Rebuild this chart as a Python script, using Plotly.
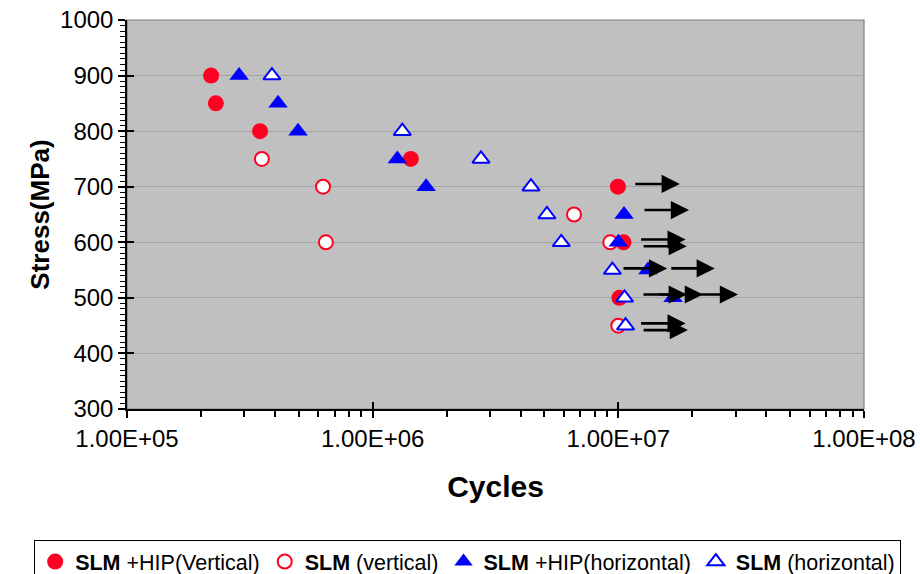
import math
import plotly.graph_objects as go

# ---------------- data ----------------
hip_v_cycles = [2.2e5, 2.3e5, 3.48e5, 1.43e6, 9.96e6, 1.05e7, 1.01e7]
hip_v_stress = [900, 850, 800, 750, 700, 600, 500]

slm_v_cycles = [3.54e5, 6.28e5, 6.45e5, 6.6e6, 9.27e6, 1.0e7]
slm_v_stress = [750, 700, 600, 650, 600, 450]

hip_h_cycles = [2.86e5, 4.12e5, 4.97e5, 1.26e6, 1.65e6, 1.055e7, 1.0e7, 1.32e7, 1.67e7]
hip_h_stress = [900, 850, 800, 750, 700, 650, 600, 550, 500]

slm_h_cycles = [3.89e5, 1.32e6, 2.76e6, 4.41e6, 5.12e6, 5.86e6, 9.46e6, 1.06e7, 1.07e7]
slm_h_stress = [900, 800, 750, 700, 650, 600, 550, 500, 450]

# run-out arrows (start cycles, end cycles, stress level)
arrow_start = [1.156e7, 1.26e7, 1.22e7, 1.25e7, 1.035e7, 1.62e7, 1.248e7, 1.45e7, 2.01e7, 1.22e7, 1.25e7]
arrow_end   = [1.78e7, 1.94e7, 1.88e7, 1.90e7, 1.58e7, 2.47e7, 1.90e7, 2.21e7, 3.07e7, 1.88e7, 1.92e7]
arrow_y     = [705, 658, 605, 593, 553, 553, 506, 506, 506, 454, 442]

x_tickvals = [1e5, 1e6, 1e7, 1e8]
x_ticktext = ["1.00E+05", "1.00E+06", "1.00E+07", "1.00E+08"]
y_tickvals = [300, 400, 500, 600, 700, 800, 900, 1000]

RED = "#FF0022"
BLUE = "#0000FF"
FONT = "Liberation Sans, Arial, sans-serif"

fig = go.Figure()

fig.add_trace(go.Scatter(
    x=hip_v_cycles, y=hip_v_stress, mode="markers",
    name="<b>SLM</b> +HIP(Vertical)",
    marker=dict(symbol="circle", size=16, color=RED, line=dict(width=0)),
))
fig.add_trace(go.Scatter(
    x=slm_v_cycles, y=slm_v_stress, mode="markers",
    name="<b>SLM</b> (vertical)",
    marker=dict(symbol="circle", size=14, color="white", line=dict(width=2, color=RED)),
))
fig.add_trace(go.Scatter(
    x=hip_h_cycles, y=hip_h_stress, mode="markers",
    name="<b>SLM</b> +HIP(horizontal)",
    marker=dict(symbol="triangle-up", size=17, color=BLUE, line=dict(width=0)),
))
fig.add_trace(go.Scatter(
    x=slm_h_cycles, y=slm_h_stress, mode="markers",
    name="<b>SLM</b> (horizontal)",
    marker=dict(symbol="triangle-up", size=15, color="white", line=dict(width=2, color=BLUE)),
))
# dummy trace for overlay axes (inside tick marks)
fig.add_trace(go.Scatter(x=[], y=[], xaxis="x2", yaxis="y2", showlegend=False, hoverinfo="skip"))

annotations = []
for xs, xe, yv in zip(arrow_start, arrow_end, arrow_y):
    annotations.append(dict(
        x=math.log10(xe), y=yv, ax=math.log10(xs), ay=yv,
        xref="x", yref="y", axref="x", ayref="y",
        text="", showarrow=True, arrowhead=2, arrowsize=1.4,
        arrowwidth=2.6, arrowcolor="black", standoff=0, startstandoff=0,
    ))

fig.update_layout(
    width=920, height=574,
    margin=dict(l=127, r=56, t=20, b=165, autoexpand=False),
    paper_bgcolor="white",
    plot_bgcolor="#C0C0C0",
    font=dict(family=FONT, color="black"),
    showlegend=True,
    legend=dict(
        orientation="h", x=-0.126, y=-0.337, xanchor="left", yanchor="top",
        bgcolor="white", bordercolor="black", borderwidth=1,
        font=dict(family=FONT, size=21.5, color="black"),
        itemwidth=30, tracegroupgap=0,
    ),
    xaxis=dict(
        type="log", range=[5, 8], automargin=False,
        tickvals=x_tickvals, ticktext=x_ticktext,
        ticks="outside", ticklen=7, tickwidth=1.5, tickcolor="black",
        tickfont=dict(family=FONT, size=24),
        showline=True, linecolor="black", linewidth=1.5,
        showgrid=False, zeroline=False,
        minor=dict(ticks="outside", ticklen=6, tickwidth=1.5, tickcolor="black",
                   dtick="D1", showgrid=False),
        title=dict(text="<b>Cycles</b>", font=dict(family=FONT, size=30), standoff=25),
    ),
    xaxis2=dict(
        type="log", range=[5, 8], overlaying="x", anchor="y", side="bottom",
        tickvals=x_tickvals, showticklabels=False, automargin=False,
        ticks="inside", ticklen=7, tickwidth=1.5, tickcolor="black",
        showline=False, showgrid=False, zeroline=False,
    ),
    yaxis=dict(
        range=[300, 1000], tickvals=y_tickvals, automargin=False,
        ticks="outside", ticklen=7, tickwidth=1.5, tickcolor="black",
        tickfont=dict(family=FONT, size=24),
        showline=True, linecolor="black", linewidth=1.5,
        showgrid=True, gridcolor="#A4A4A4", gridwidth=1, zeroline=False,
        minor=dict(ticks="outside", ticklen=5, tickwidth=1.2, tickcolor="black",
                   dtick=10, showgrid=False),
        title=dict(text="<b>Stress(MPa)</b>", font=dict(family=FONT, size=26), standoff=3),
    ),
    yaxis2=dict(
        range=[300, 1000], overlaying="y", anchor="x", side="left",
        tickvals=y_tickvals, showticklabels=False, automargin=False,
        ticks="inside", ticklen=7, tickwidth=1.5, tickcolor="black",
        showline=False, showgrid=False, zeroline=False,
    ),
    annotations=annotations,
    shapes=[dict(type="rect", xref="x domain", yref="y domain", x0=0, x1=1, y0=0, y1=1,
                 line=dict(color="#808080", width=1.2), layer="below")],
)

fig.write_html("out.html")
